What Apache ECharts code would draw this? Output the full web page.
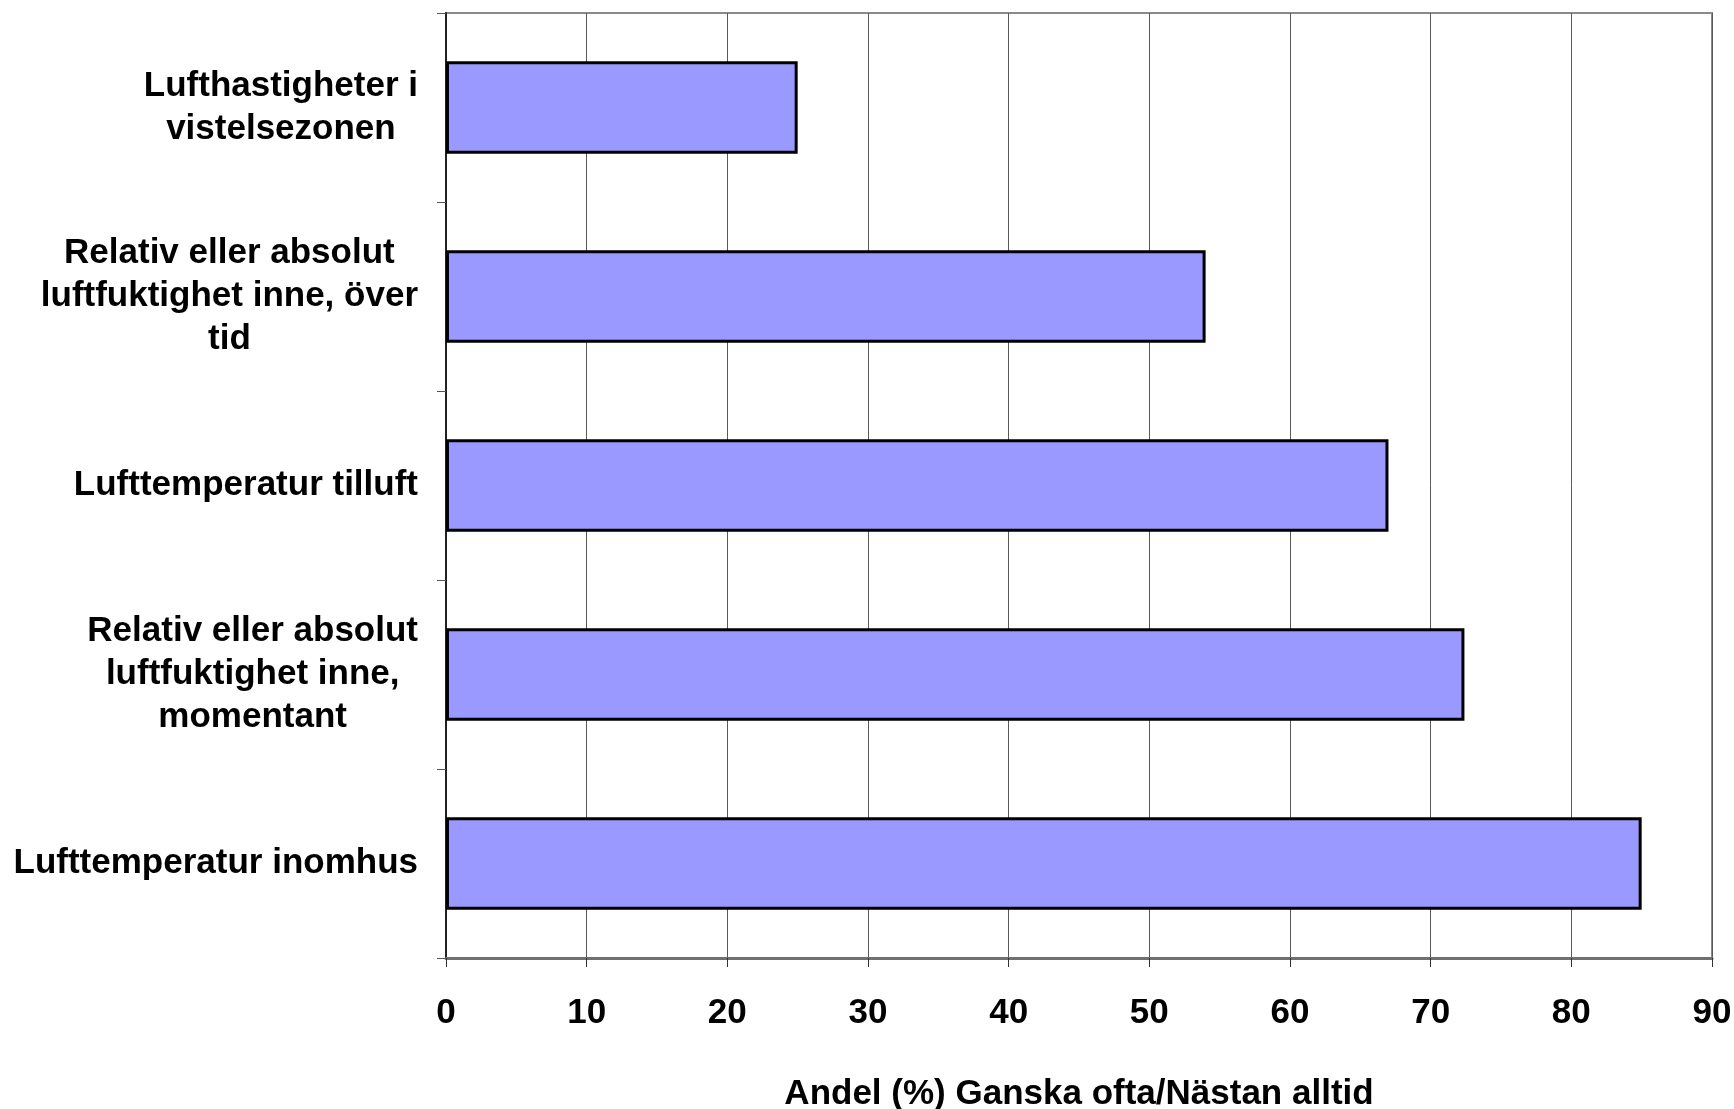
<!DOCTYPE html>
<html>
<head>
<meta charset="utf-8">
<script src="https://cdn.jsdelivr.net/npm/echarts@6/dist/echarts.min.js"></script>
<style>
html,body{margin:0;padding:0;background:#fff;}
#chart{width:1734px;height:1109px;}
</style>
</head>
<body>
<div id="chart"></div>
<script>
const categories = [
  "Lufthastigheter i\nvistelsezonen",
  "Relativ eller absolut\nluftfuktighet inne, över\ntid",
  "Lufttemperatur tilluft",
  "Relativ eller absolut\nluftfuktighet inne,\nmomentant",
  "Lufttemperatur inomhus"
];
const values = [25, 54, 67, 72.4, 85];
const xTicks = { min: 0, max: 90, interval: 10 };
const xAxisTitle = "Andel (%) Ganska ofta/Nästan alltid";

const FONT = '"Liberation Sans", Arial, sans-serif';
const FS = 35;
const chart = echarts.init(document.getElementById('chart'), null, {renderer: 'canvas'});
chart.setOption({
  backgroundColor: '#ffffff',
  animation: false,
  grid: {
    left: 446, right: 22, top: 13, bottom: 151,
    containLabel: false,
    outerBoundsMode: 'none',
    show: true, borderColor: '#8a8a8a', borderWidth: 2, backgroundColor: 'transparent'
  },
  xAxis: {
    type: 'value',
    min: xTicks.min, max: xTicks.max, interval: xTicks.interval,
    axisLine: { show: true, lineStyle: { color: '#707070', width: 3 } },
    axisTick: { show: true, length: 9, lineStyle: { color: '#333', width: 1 } },
    splitLine: { show: true, lineStyle: { color: '#5a5a5a', width: 1 } },
    axisLabel: { fontFamily: FONT, fontWeight: 'bold', fontSize: FS, color: '#000', margin: 38 },
    name: xAxisTitle,
    nameLocation: 'middle',
    nameGap: 119,
    nameTextStyle: { fontFamily: FONT, fontWeight: 'bold', fontSize: FS, color: '#000' }
  },
  yAxis: {
    type: 'category',
    data: categories,
    inverse: true,
    axisLine: { show: true, lineStyle: { color: '#222', width: 2 } },
    axisTick: { show: true, length: 9, lineStyle: { color: '#555', width: 1 } },
    splitLine: { show: false },
    axisLabel: {
      margin: 28,
      align: 'right',
      fontFamily: FONT, fontWeight: 'bold', fontSize: FS, color: '#000', lineHeight: 43,
      formatter: function (v) {
        return v.split('\n').map(function (s) { return '{c|' + s + '}'; }).join('\n');
      },
      rich: {
        c: { align: 'center', fontFamily: FONT, fontWeight: 'bold', fontSize: FS, color: '#000', lineHeight: 43 }
      }
    }
  },
  series: [{
    type: 'bar',
    data: values,
    barCategoryGap: '51%',
    itemStyle: { color: '#9999ff', borderColor: '#000', borderWidth: 3 },
    z: 3
  }]
});
</script>
</body>
</html>
